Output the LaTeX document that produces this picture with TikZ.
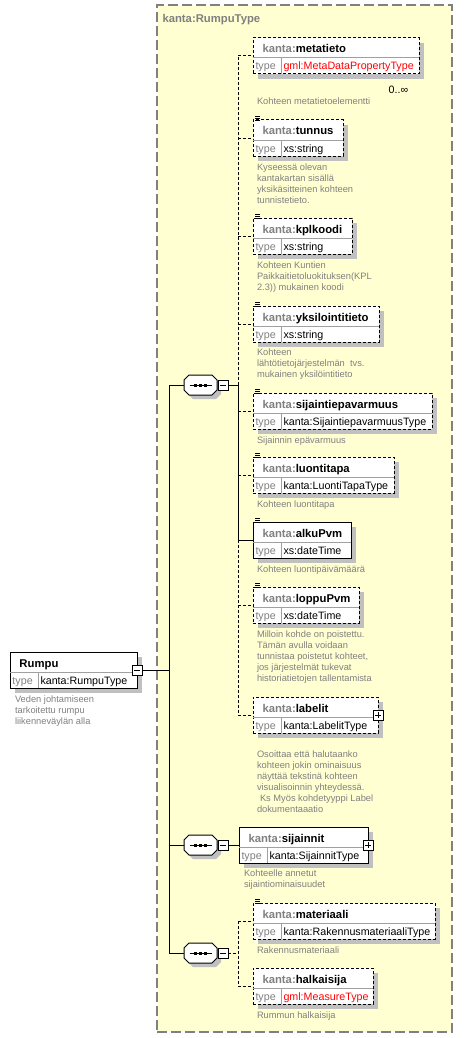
\documentclass[tikz,border=0pt]{standalone}
\usepackage{fontspec}
\setmainfont{Liberation Sans}
\usetikzlibrary{positioning,shadows}

\definecolor{xsbg}{RGB}{255,255,210}
\definecolor{xsgray}{RGB}{128,128,128}
\definecolor{xsshade}{RGB}{192,192,192}
\definecolor{xsline}{RGB}{160,160,160}
\definecolor{xsred}{RGB}{255,0,0}

\newcommand{\kn}[1]{\textcolor{xsgray}{kanta:}#1}
\newcommand{\gml}[1]{\textcolor{xsred}{gml:#1}}
\newcommand{\octpath}{(-16.5,-5) -- (-11.5,-10) -- (11.5,-10) -- (16.5,-5) -- (16.5,5) -- (11.5,10) -- (-11.5,10) -- (-16.5,5) -- cycle}

\tikzset{
  typebox/.style={draw=xsgray,fill=xsbg,line width=1.5pt,dash pattern=on 10pt off 4pt,
    minimum width=295pt,minimum height=1027pt,anchor=north west,inner sep=0pt,outer sep=0pt},
  hdr/.style={font=\fontsize{11.3}{13}\bfseries\selectfont,text=xsgray,anchor=base west,inner sep=0pt},
  elbox/.style={draw=black,fill=white,line width=1pt,minimum height=36pt,inner sep=0pt,outer sep=0pt,
    anchor=north west,drop shadow={shadow xshift=5pt,shadow yshift=-5pt,fill=xsshade,opacity=1}},
  opt/.style={dash pattern=on 3pt off 2pt},
  sepline/.style={draw=xsline,line width=1pt},
  namelbl/.style={font=\fontsize{11.3}{13}\bfseries\selectfont,anchor=base west,inner sep=0pt},
  typelbl/.style={text=xsgray,anchor=base west,inner sep=0pt},
  typeval/.style={anchor=base west,inner sep=0pt},
  desc/.style={font=\fontsize{9.3}{11}\selectfont,text=xsgray,align=left,inner sep=0pt,outer sep=0pt},
  conn/.style={draw=black,line width=1pt},
  xbtn/.style={draw=black,fill=white,line width=1pt,minimum size=10pt,inner sep=0pt,outer sep=0pt},
  minusbtn/.style={xbtn,path picture={
    \draw[line width=1pt] ([xshift=2pt]path picture bounding box.west) -- ([xshift=-2pt]path picture bounding box.east);}},
  plusbtn/.style={xbtn,path picture={
    \draw[line width=1pt] ([xshift=2pt]path picture bounding box.west) -- ([xshift=-2pt]path picture bounding box.east);
    \draw[line width=1pt] ([yshift=-2pt]path picture bounding box.north) -- ([yshift=2pt]path picture bounding box.south);}},
  seqnode/.style={inner sep=0pt,outer sep=0pt,minimum width=33pt,minimum height=20pt}
}

% element box: id, (x,top), width, name, type, border
\newcommand{\xsdel}[6]{%
  \node[elbox,#6,minimum width=#3pt] (#1) at #2 {};
  \draw[sepline] ([yshift=-20pt]#1.north west) -- ([yshift=-20pt]#1.north east);
  \draw[sepline] ([xshift=28pt,yshift=-20pt]#1.north west) -- ([xshift=28pt]#1.south west);
  \node[namelbl] at ([xshift=9pt,yshift=-15pt]#1.north west) {#4};
  \node[typelbl] at ([xshift=2pt,yshift=-32pt]#1.north west) {type};
  \node[typeval] at ([xshift=30pt,yshift=-32pt]#1.north west) {#5};
}
% documentation mark
\newcommand{\docmark}[1]{%
  \foreach \d in {3.5,1.5,-0.5}
    \draw[line width=1pt] ([xshift=2pt,yshift=\d pt]#1.north west) -- ++(5pt,0pt);
}
% sequence compositor: id, (x,y)
\newcommand{\xsseq}[2]{%
  \node[seqnode] (#1) at #2 {};
  \begin{scope}[shift={(#1.center)}]
    \fill[xsshade,shift={(4,4)}] \octpath;
    \draw[fill=white,line width=1pt] \octpath;
    \draw[line width=1pt] (-11,0) -- (11,0);
    \foreach \dx in {-5,0,5} \fill (\dx-1.5,-1.5) rectangle (\dx+1.5,1.5);
  \end{scope}
  \node[minusbtn,right=1pt of #1] (#1x) {};
}

\begin{document}
\begin{tikzpicture}[x=1pt,y=-1pt,font=\fontsize{10.7}{12.5}\selectfont,line width=1pt]
\useasboundingbox (0,0) rectangle (463,1038);

% complex type
\node[typebox] (rumpuType) at (157,5) {};
\node[hdr] at ([xshift=5pt,yshift=-18pt]rumpuType.north west) {kanta:RumpuType};

% root element
\xsdel{rumpu}{(10,652)}{127}{Rumpu}{kanta:RumpuType}{solid}
\node[minusbtn] (rumpux) at (rumpu.east) {};
\node[desc,below right=8pt and 5pt of rumpu.south west] (rumpuD)
  {Veden johtamiseen\\tarkoitettu rumpu\\liikenneväylän alla};

% first sequence
\xsdel{metatieto}{(253,38)}{166}{\kn{metatieto}}{\gml{MetaDataPropertyType}}{opt}
\node[below left=8pt and 7pt of metatieto.south east] (metatietoN) {0..∞};
\node[desc,below right=24pt and 4pt of metatieto.south west] (metatietoD) {Kohteen metatietoelementti};

\xsdel{tunnus}{(253,120)}{90}{\kn{tunnus}}{xs:string}{opt}
\docmark{tunnus}
\node[desc,below right=8pt and 4pt of tunnus.south west] (tunnusD)
  {Kyseessä olevan\\kantakartan sisällä\\yksikäsitteinen kohteen\\tunnistetieto.};

\xsdel{kplkoodi}{(253,218)}{99}{\kn{kplkoodi}}{xs:string}{opt}
\docmark{kplkoodi}
\node[desc,below right=8pt and 4pt of kplkoodi.south west] (kplkoodiD)
  {Kohteen Kuntien\\Paikkaitietoluokituksen(KPL\\2.3)) mukainen koodi};

\xsdel{yksilointitieto}{(253,306)}{126}{\kn{yksilointitieto}}{xs:string}{opt}
\docmark{yksilointitieto}
\node[desc,below right=7pt and 4pt of yksilointitieto.south west] (yksilointitietoD)
  {Kohteen\\lähtötietojärjestelmän\ \ tvs.\\mukainen yksilöintitieto};

\xsdel{sijaintiepavarmuus}{(253,393)}{179}{\kn{sijaintiepavarmuus}}{kanta:SijaintiepavarmuusType}{opt}
\docmark{sijaintiepavarmuus}
\node[desc,below right=8pt and 4pt of sijaintiepavarmuus.south west] (sijaintiepavarmuusD) {Sijainnin epävarmuus};

\xsdel{luontitapa}{(253,457)}{141}{\kn{luontitapa}}{kanta:LuontiTapaType}{opt}
\docmark{luontitapa}
\node[desc,below right=8pt and 4pt of luontitapa.south west] (luontitapaD) {Kohteen luontitapa};

\xsdel{alkuPvm}{(253,522)}{98}{\kn{alkuPvm}}{xs:dateTime}{solid}
\docmark{alkuPvm}
\node[desc,below right=8pt and 4pt of alkuPvm.south west] (alkuPvmD) {Kohteen luontipäivämäärä};

\xsdel{loppuPvm}{(253,587)}{106}{\kn{loppuPvm}}{xs:dateTime}{opt}
\docmark{loppuPvm}
\node[desc,below right=8pt and 4pt of loppuPvm.south west] (loppuPvmD)
  {Milloin kohde on poistettu.\\Tämän avulla voidaan\\tunnistaa poistetut kohteet,\\jos järjestelmät tukevat\\historiatietojen tallentamista};

\xsdel{labelit}{(253,697)}{125}{\kn{labelit}}{kanta:LabelitType}{opt}
\node[plusbtn] (labelitx) at (labelit.east) {};
\node[desc,below right=18pt and 4pt of labelit.south west] (labelitD)
  {Osoittaa että halutaanko\\kohteen jokin ominaisuus\\näyttää tekstinä kohteen\\visualisoinnin yhteydessä.\\\hspace*{3pt}Ks Myös kohdetyyppi Label\\dokumentaaatio};

% second sequence
\xsdel{sijainnit}{(239,827)}{129}{\kn{sijainnit}}{kanta:SijainnitType}{solid}
\node[plusbtn] (sijainnitx) at (sijainnit.east) {};
\node[desc,below right=7pt and 5pt of sijainnit.south west] (sijainnitD)
  {Kohteelle annetut\\sijaintiominaisuudet};

% third sequence
\xsdel{materiaali}{(253,903)}{182}{\kn{materiaali}}{kanta:RakennusmateriaaliType}{opt}
\docmark{materiaali}
\node[desc,below right=8pt and 4pt of materiaali.south west] (materiaaliD) {Rakennusmateriaali};

\xsdel{halkaisija}{(253,968)}{120}{\kn{halkaisija}}{\gml{MeasureType}}{opt}
\node[desc,below right=8pt and 4pt of halkaisija.south west] (halkaisijaD) {Rummun halkaisija};

% compositors
\xsseq{seqA}{(200.5,385)}
\xsseq{seqB}{(200.5,845)}
\xsseq{seqC}{(200.5,953)}

\coordinate (busA) at (169,385);
\coordinate (busC) at (169,953);
\coordinate (chA) at (238,385);
\coordinate (chC) at (238,953);

% connectors
\draw[conn] (rumpux.east) -- (rumpux.east -| busA);
\draw[conn] (busA) -- (busC);
\foreach \s in {seqA,seqB,seqC}
  \draw[conn] (busA |- \s.west) -- (\s.west);
\draw[conn] (seqAx.east) -- (chA);
\draw[conn] (seqBx.east) -- (sijainnit.west);
\draw[conn,opt] (seqCx.east) -- (chC);
\draw[conn,opt] (chA) -- (chA |- metatieto.west);
\draw[conn] (chA) -- (chA |- alkuPvm.west);
\draw[conn,opt] (chA |- alkuPvm.west) -- (chA |- labelit.west);
\foreach \e in {metatieto,tunnus,kplkoodi,yksilointitieto,sijaintiepavarmuus,luontitapa,loppuPvm,labelit}
  \draw[conn,opt] (chA |- \e.west) -- (\e.west);
\draw[conn] (chA |- alkuPvm.west) -- (alkuPvm.west);
\draw[conn,opt] (chC |- materiaali.west) -- (chC |- halkaisija.west);
\foreach \e in {materiaali,halkaisija}
  \draw[conn,opt] (chC |- \e.west) -- (\e.west);
\end{tikzpicture}
\end{document}
